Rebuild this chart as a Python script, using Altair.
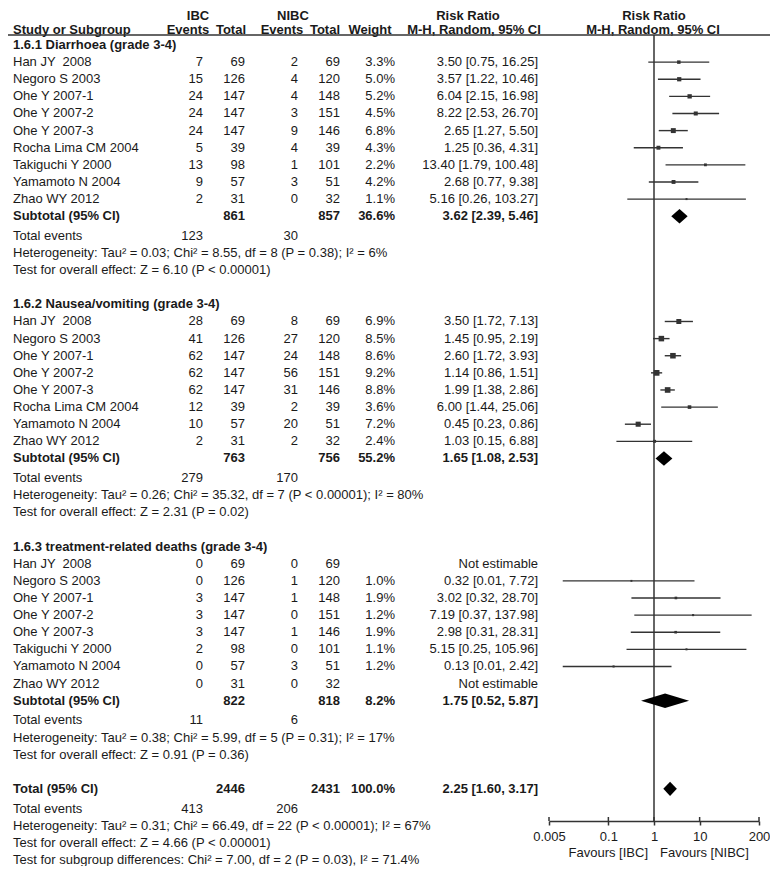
import altair as alt
import pandas as pd

# ---------------- data ----------------
group_titles = [
    "1.6.1 Diarrhoea (grade 3-4)",
    "1.6.2 Nausea/vomiting (grade 3-4)",
    "1.6.3 treatment-related deaths (grade 3-4)",
]

# 1.6.1 Diarrhoea
g1_study = ["Han JY \u00a02008", "Negoro S 2003", "Ohe Y 2007-1", "Ohe Y 2007-2", "Ohe Y 2007-3",
            "Rocha Lima CM 2004", "Takiguchi Y 2000", "Yamamoto N 2004", "Zhao WY 2012"]
g1_ibc_e = [7, 15, 24, 24, 24, 5, 13, 9, 2]
g1_ibc_n = [69, 126, 147, 147, 147, 39, 98, 57, 31]
g1_nibc_e = [2, 4, 4, 3, 9, 4, 1, 3, 0]
g1_nibc_n = [69, 120, 148, 151, 146, 39, 101, 51, 32]
g1_weight = [3.3, 5.0, 5.2, 4.5, 6.8, 4.3, 2.2, 4.2, 1.1]
g1_rr = [3.50, 3.57, 6.04, 8.22, 2.65, 1.25, 13.40, 2.68, 5.16]
g1_lo = [0.75, 1.22, 2.15, 2.53, 1.27, 0.36, 1.79, 0.77, 0.26]
g1_hi = [16.25, 10.46, 16.98, 26.70, 5.50, 4.31, 100.48, 9.38, 103.27]

# 1.6.2 Nausea/vomiting
g2_study = ["Han JY \u00a02008", "Negoro S 2003", "Ohe Y 2007-1", "Ohe Y 2007-2", "Ohe Y 2007-3",
            "Rocha Lima CM 2004", "Yamamoto N 2004", "Zhao WY 2012"]
g2_ibc_e = [28, 41, 62, 62, 62, 12, 10, 2]
g2_ibc_n = [69, 126, 147, 147, 147, 39, 57, 31]
g2_nibc_e = [8, 27, 24, 56, 31, 2, 20, 2]
g2_nibc_n = [69, 120, 148, 151, 146, 39, 51, 32]
g2_weight = [6.9, 8.5, 8.6, 9.2, 8.8, 3.6, 7.2, 2.4]
g2_rr = [3.50, 1.45, 2.60, 1.14, 1.99, 6.00, 0.45, 1.03]
g2_lo = [1.72, 0.95, 1.72, 0.86, 1.38, 1.44, 0.23, 0.15]
g2_hi = [7.13, 2.19, 3.93, 1.51, 2.86, 25.06, 0.86, 6.88]

# 1.6.3 treatment-related deaths (None = not estimable)
g3_study = ["Han JY \u00a02008", "Negoro S 2003", "Ohe Y 2007-1", "Ohe Y 2007-2", "Ohe Y 2007-3",
            "Takiguchi Y 2000", "Yamamoto N 2004", "Zhao WY 2012"]
g3_ibc_e = [0, 0, 3, 3, 3, 2, 0, 0]
g3_ibc_n = [69, 126, 147, 147, 147, 98, 57, 31]
g3_nibc_e = [0, 1, 1, 0, 1, 0, 3, 0]
g3_nibc_n = [69, 120, 148, 151, 146, 101, 51, 32]
g3_weight = [None, 1.0, 1.9, 1.2, 1.9, 1.1, 1.2, None]
g3_rr = [None, 0.32, 3.02, 7.19, 2.98, 5.15, 0.13, None]
g3_lo = [None, 0.01, 0.32, 0.37, 0.31, 0.25, 0.01, None]
g3_hi = [None, 7.72, 28.70, 137.98, 28.31, 105.96, 2.42, None]

# subtotals
sub_ibc_n = [861, 763, 822]
sub_nibc_n = [857, 756, 818]
sub_weight = [36.6, 55.2, 8.2]
sub_rr = [3.62, 1.65, 1.75]
sub_lo = [2.39, 1.08, 0.52]
sub_hi = [5.46, 2.53, 5.87]
sub_ev_ibc = [123, 279, 11]
sub_ev_nibc = [30, 170, 6]
sub_het = [
    "Heterogeneity: Tau² = 0.03; Chi² = 8.55, df = 8 (P = 0.38); I² = 6%",
    "Heterogeneity: Tau² = 0.26; Chi² = 35.32, df = 7 (P < 0.00001); I² = 80%",
    "Heterogeneity: Tau² = 0.38; Chi² = 5.99, df = 5 (P = 0.31); I² = 17%",
]
sub_test = [
    "Test for overall effect: Z = 6.10 (P < 0.00001)",
    "Test for overall effect: Z = 2.31 (P = 0.02)",
    "Test for overall effect: Z = 0.91 (P = 0.36)",
]

# overall
tot_ibc_n, tot_nibc_n, tot_weight = 2446, 2431, 100.0
tot_rr, tot_lo, tot_hi = 2.25, 1.60, 3.17
tot_ev_ibc, tot_ev_nibc = 413, 206
tot_het = "Heterogeneity: Tau² = 0.31; Chi² = 66.49, df = 22 (P < 0.00001); I² = 67%"
tot_test = "Test for overall effect: Z = 4.66 (P < 0.00001)"
tot_sub = "Test for subgroup differences: Chi² = 7.00, df = 2 (P = 0.03), I² = 71.4%"

axis_ticks = [0.005, 0.1, 1, 10, 200]

groups = [
    (g1_study, g1_ibc_e, g1_ibc_n, g1_nibc_e, g1_nibc_n, g1_weight, g1_rr, g1_lo, g1_hi),
    (g2_study, g2_ibc_e, g2_ibc_n, g2_nibc_e, g2_nibc_n, g2_weight, g2_rr, g2_lo, g2_hi),
    (g3_study, g3_ibc_e, g3_ibc_n, g3_nibc_e, g3_nibc_n, g3_weight, g3_rr, g3_lo, g3_hi),
]

# ---------------- table building ----------------
def ci_text(e, l, h):
    if e is None:
        return "Not estimable"
    return f"{e:.2f} [{l:.2f}, {h:.2f}]"

lines, points, diamonds = [], [], []

def add_line(r, label="", e1="", n1="", e2="", n2="", w="", rr="", bold=False):
    lines.append(dict(row=r, label=label, e1=e1, n1=n1, e2=e2, n2=n2, w=w, rr=rr, bold=bold))

def add_diamond(gid, r, e, l, h):
    half = 0.42
    diamonds.append(dict(g=gid, x=l, yt=r, yb=r))
    diamonds.append(dict(g=gid, x=e, yt=r - half, yb=r + half))
    diamonds.append(dict(g=gid, x=h, yt=r, yb=r))

r = 0.0
for gi, (st, ie, inn, ne, nn, wt, rr, lo, hi) in enumerate(groups):
    add_line(r, label=group_titles[gi], bold=True)
    r += 1
    for k in range(len(st)):
        add_line(r, label=st[k], e1=str(ie[k]), n1=str(inn[k]), e2=str(ne[k]), n2=str(nn[k]),
                 w="" if wt[k] is None else f"{wt[k]:.1f}%", rr=ci_text(rr[k], lo[k], hi[k]))
        if rr[k] is not None:
            points.append(dict(row=r, est=rr[k], lo=lo[k], hi=hi[k], w=wt[k]))
        r += 1
    add_line(r, label="Subtotal (95% CI)", n1=str(sub_ibc_n[gi]), n2=str(sub_nibc_n[gi]),
             w=f"{sub_weight[gi]:.1f}%", rr=ci_text(sub_rr[gi], sub_lo[gi], sub_hi[gi]), bold=True)
    add_diamond(f"g{gi}", r, sub_rr[gi], sub_lo[gi], sub_hi[gi])
    r += 1.15
    add_line(r, label="Total events", e1=str(sub_ev_ibc[gi]), e2=str(sub_ev_nibc[gi]))
    r += 1
    add_line(r, label=sub_het[gi])
    r += 1
    add_line(r, label=sub_test[gi])
    r += 2

add_line(r, label="Total (95% CI)", n1=str(tot_ibc_n), n2=str(tot_nibc_n),
         w=f"{tot_weight:.1f}%", rr=ci_text(tot_rr, tot_lo, tot_hi), bold=True)
add_diamond("tot", r, tot_rr, tot_lo, tot_hi)
r += 1.15
add_line(r, label="Total events", e1=str(tot_ev_ibc), e2=str(tot_ev_nibc))
r += 1
add_line(r, label=tot_het)
r += 1
add_line(r, label=tot_test)
r += 1
add_line(r, label=tot_sub)

text_df = pd.DataFrame(lines)
pts_df = pd.DataFrame(points)
dia_df = pd.DataFrame(diamonds)
tick_df = pd.DataFrame({"v": axis_ticks})
one_df = pd.DataFrame({"v": [1]})

# ---------------- layout / style ----------------
FONT = "Liberation Sans, Arial, Helvetica, sans-serif"
FS = 13
TXT = "#1a1a1a"
LINE = "#333333"
W, H = 762, 813
ROW_PX = 17.12
ROW0_PX = 37.0
HEAD1_ROW = (7.5 - ROW0_PX) / ROW_PX
HEAD2_ROW = (21.5 - ROW0_PX) / ROW_PX
HEAD_LINE_ROW = (27 - ROW0_PX) / ROW_PX

yscale = alt.Scale(domain=[-ROW0_PX / ROW_PX, (H - ROW0_PX) / ROW_PX], reverse=True, nice=False, zero=False)
xscale = alt.Scale(type="log", domain=[0.005, 200], range=[541, 751], nice=False)
xaxis = alt.Axis(values=axis_ticks, format="~g", title=None, grid=False,
                 domainColor=LINE, domainWidth=1.5, tickColor=LINE, tickWidth=1.5, tickSize=4,
                 labelFont=FONT, labelFontSize=FS, labelColor=TXT, labelPadding=5, labelFlush=False)
Y = lambda f: alt.Y(f, scale=yscale, axis=None)
X = lambda f: alt.X(f, scale=xscale, axis=xaxis)

layers = []

# table columns
cols = [("label", 5, "left"), ("e1", 195, "right"), ("n1", 237, "right"), ("e2", 290, "right"),
        ("n2", 332, "right"), ("w", 387, "right"), ("rr", 530, "right")]
for field, xp, al in cols:
    for b in (False, True):
        layers.append(
            alt.Chart(text_df).transform_filter(
                f"datum.bold == {'true' if b else 'false'} && datum['{field}'] != ''"
            ).mark_text(align=al, baseline="middle", font=FONT, fontSize=FS,
                        fontWeight="bold" if b else "normal", color=TXT
            ).encode(x=alt.value(xp), y=Y("row:Q"), text=f"{field}:N")
        )

# header texts
headers = [("IBC", 190, HEAD1_ROW, "center"), ("NIBC", 285, HEAD1_ROW, "center"),
           ("Risk Ratio", 460, HEAD1_ROW, "center"), ("Risk Ratio", 646, HEAD1_ROW, "center"),
           ("Study or Subgroup", 5, HEAD2_ROW, "left"), ("Events", 180, HEAD2_ROW, "center"),
           ("Total", 223, HEAD2_ROW, "center"), ("Events", 274, HEAD2_ROW, "center"),
           ("Total", 317, HEAD2_ROW, "center"), ("Weight", 362, HEAD2_ROW, "center"),
           ("M-H, Random, 95% CI", 466, HEAD2_ROW, "center"),
           ("M-H, Random, 95% CI", 645, HEAD2_ROW, "center")]
for t, xp, rw, al in headers:
    layers.append(
        alt.Chart(pd.DataFrame({"t": [t], "row": [rw]})).mark_text(
            align=al, baseline="middle", font=FONT, fontSize=FS, fontWeight="bold", color=TXT
        ).encode(x=alt.value(xp), y=Y("row:Q"), text="t:N")
    )

# header rule
layers.append(
    alt.Chart(pd.DataFrame({"row": [HEAD_LINE_ROW]})).mark_rule(color=LINE, strokeWidth=1.5)
    .encode(x=alt.value(0), x2=alt.value(W), y=Y("row:Q"))
)

# vertical line of no effect
layers.append(
    alt.Chart(one_df.assign(row=HEAD_LINE_ROW)).mark_rule(color=LINE, strokeWidth=1.5)
    .encode(x=X("v:Q"), y=Y("row:Q"), y2=alt.value(H))
)

# confidence intervals
layers.append(
    alt.Chart(pts_df).mark_rule(color=LINE, strokeWidth=1.4)
    .encode(x=X("lo:Q"), x2="hi:Q", y=Y("row:Q"))
)
# study squares
layers.append(
    alt.Chart(pts_df).mark_square(color=LINE, opacity=1)
    .encode(x=X("est:Q"), y=Y("row:Q"),
            size=alt.Size("w:Q", scale=alt.Scale(domain=[0, 10], range=[0, 36]), legend=None))
)
# diamonds
layers.append(
    alt.Chart(dia_df).mark_area(color="#000000", orient="vertical", opacity=1)
    .encode(x=X("x:Q"), y=Y("yt:Q"), y2="yb:Q", detail="g:N")
)
# upward halves of axis ticks
layers.append(
    alt.Chart(tick_df).mark_rule(color=LINE, strokeWidth=1.5)
    .encode(x=X("v:Q"), y=alt.value(H - 4), y2=alt.value(H))
)
# favours labels
layers.append(
    alt.Chart(pd.DataFrame({"t": ["Favours [IBC]"]})).mark_text(
        align="right", baseline="middle", font=FONT, fontSize=FS, color=TXT
    ).encode(x=alt.value(640), y=alt.value(H + 32), text="t:N")
)
layers.append(
    alt.Chart(pd.DataFrame({"t": ["Favours [NIBC]"]})).mark_text(
        align="left", baseline="middle", font=FONT, fontSize=FS, color=TXT
    ).encode(x=alt.value(652), y=alt.value(H + 32), text="t:N")
)

chart = alt.layer(*layers).properties(
    width=W, height=H,
    padding={"left": 0, "top": 0, "right": 0, "bottom": 45},
    autosize=alt.AutoSizeParams(type="none"),
    background="white",
).configure_view(stroke=None)

chart.save("out.html", embed_options={"renderer": "svg", "actions": False})
